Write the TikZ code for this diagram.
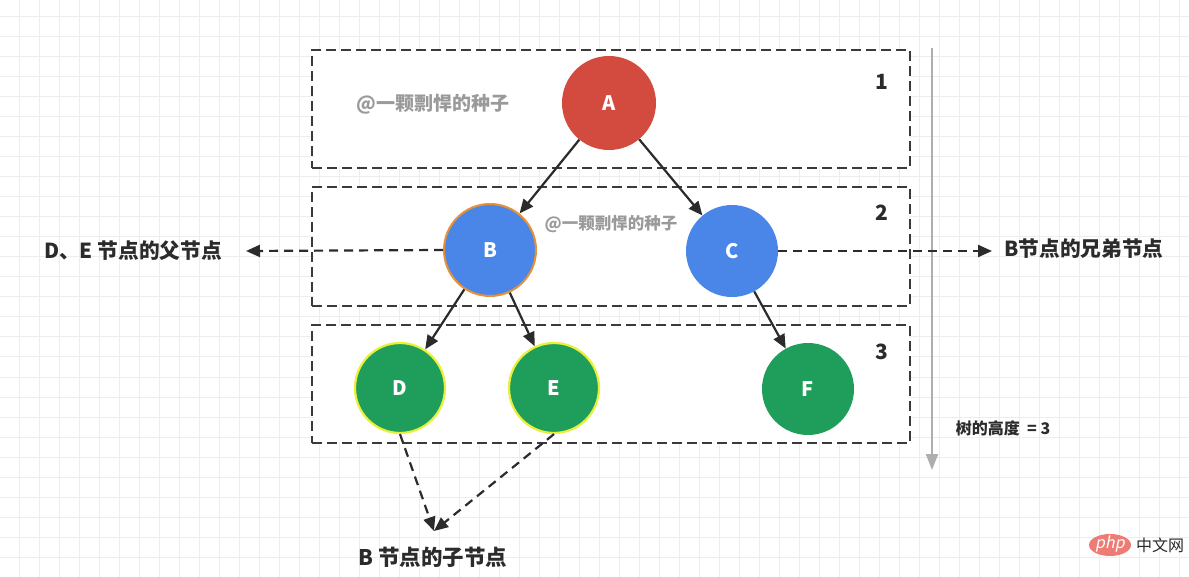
\documentclass[tikz,border=0pt]{standalone}
\usepackage{fontspec}
\setmainfont{Noto Sans CJK SC}
\usetikzlibrary{arrows.meta,shapes.geometric}
\definecolor{gridc}{HTML}{EDEDED}
\definecolor{boxc}{HTML}{3A3A3A}
\definecolor{redA}{HTML}{D24B3E}
\definecolor{blueB}{HTML}{4A86E8}
\definecolor{orangeB}{HTML}{E69138}
\definecolor{greenD}{HTML}{1F9D5B}
\definecolor{yellowD}{HTML}{E8F03A}
\definecolor{wm}{HTML}{9A9A9A}
\definecolor{txt}{HTML}{2B2B2B}
\definecolor{phpred}{HTML}{EE7B74}
\tikzset{
  lvlbox/.style={draw=boxc, line width=2.4pt, dash pattern=on 10pt off 5pt},
  tnode/.style={circle, minimum size=#1, inner sep=0pt, text=white, font=\bfseries\fontsize{20}{20}\selectfont},
  edge/.style={draw=txt, line width=2.2pt, -{Triangle[length=14pt,width=12pt]}},
  dedge/.style={draw=txt, line width=2.2pt, dash pattern=on 9pt off 6pt, -{Triangle[length=14pt,width=12pt]}},
  lbl/.style={text=txt, font=\bfseries\fontsize{20.7}{21}\selectfont, inner sep=0pt},
  num/.style={text=txt, font=\bfseries\fontsize{21}{21}\selectfont, inner sep=0pt},
  wmark/.style={text=wm, inner sep=0pt, font=\bfseries\fontsize{#1}{#1}\selectfont}
}
\begin{document}
\begin{tikzpicture}[x=1pt,y=-1pt]
\useasboundingbox (0,0) rectangle (1189,577);
\fill[white] (0,0) rectangle (1189,577);
% grid
\foreach \gx in {19,39,...,1189} \draw[gridc, line width=1pt] (\gx,0) -- (\gx,577);
\foreach \gy in {17,37,...,577} \draw[gridc, line width=1pt] (0,\gy) -- (1189,\gy);
% level boxes
\node[fill=white, minimum width=595pt, minimum height=115pt] at (611,109) {};
\node[fill=white, minimum width=595pt, minimum height=116pt] at (611,246.5) {};
\node[fill=white, minimum width=595pt, minimum height=115pt] at (611,384) {};
\node[lvlbox, minimum width=598pt, minimum height=118pt, inner sep=0pt] (L1) at (611,109) {};
\node[lvlbox, minimum width=598pt, minimum height=119pt, inner sep=0pt] (L2) at (611,246.5) {};
\node[lvlbox, minimum width=598pt, minimum height=118pt, inner sep=0pt] (L3) at (611,384) {};
% height axis
\coordinate (h0) at (932,48);
\coordinate (h1) at (932,470);
\draw[wm!80, line width=2pt, -{Triangle[length=16pt,width=12pt]}] (h0) -- (h1);
% numbers
\node[num] (n1) at (882,82) {1};
\node[num] (n2) at (882,213) {2};
\node[num] (n3) at (882,352) {3};
% watermarks
\node[wmark=19] (w1) at (433,104) {@一颗剽悍的种子};
\node[wmark=16.5] (w2) at (611,224) {@一颗剽悍的种子};
% tree nodes
\node[tnode=94pt, fill=redA] (A) at (609,103) {A};
\node[tnode=92pt, fill=blueB, draw=orangeB, line width=2pt] (B) at (490,250) {B};
\node[tnode=92pt, fill=blueB] (C) at (732,251) {C};
\node[tnode=90pt, fill=greenD, draw=yellowD, line width=2.2pt] (D) at (400,388) {D};
\node[tnode=90pt, fill=greenD, draw=yellowD, line width=2.2pt] (E) at (554,388) {E};
\node[tnode=92pt, fill=greenD] (F) at (808,389) {F};
% edges
\draw[edge] (A) -- (B);
\draw[edge] (A) -- (C);
\draw[edge] (B) -- (D);
\draw[edge] (B) -- (E);
\draw[edge] (C) -- (F);
% side labels
\node[lbl] (par) at (133,251) {D、E 节点的父节点};
\node[lbl] (sib) at (1084,249) {B节点的兄弟节点};
\node[lbl, font=\bfseries\fontsize{21.5}{22}\selectfont] (chi) at (433,557) {B 节点的子节点};
\node[text=txt, inner sep=0pt, font=\bfseries\fontsize{16}{16}\selectfont] (ht) at (1003,428) {树的高度 ~=~3};
\coordinate (parEnd) at (246,251);
\coordinate (sibEnd) at (992,251);
\coordinate (chiEnd) at (434,531);
\draw[dedge] (B.west) -- (parEnd);
\draw[dedge] (C.east) -- (sibEnd);
\draw[dedge] (D.south) -- (chiEnd);
\draw[dedge] (E.south) -- (chiEnd);
% php logo
\node[ellipse, fill=phpred, minimum width=42pt, minimum height=22pt, inner sep=0pt] (php) at (1110,545) {};
\node[text=white, inner sep=0pt, font=\fontsize{16}{16}\selectfont] (phpt) at (1110,544) {\addfontfeatures{FakeSlant=0.2}php};
\node[text=txt, inner sep=0pt, font=\fontsize{16}{16}\selectfont, anchor=west] (zw) at (1136,545) {中文网};
\end{tikzpicture}
\end{document}
